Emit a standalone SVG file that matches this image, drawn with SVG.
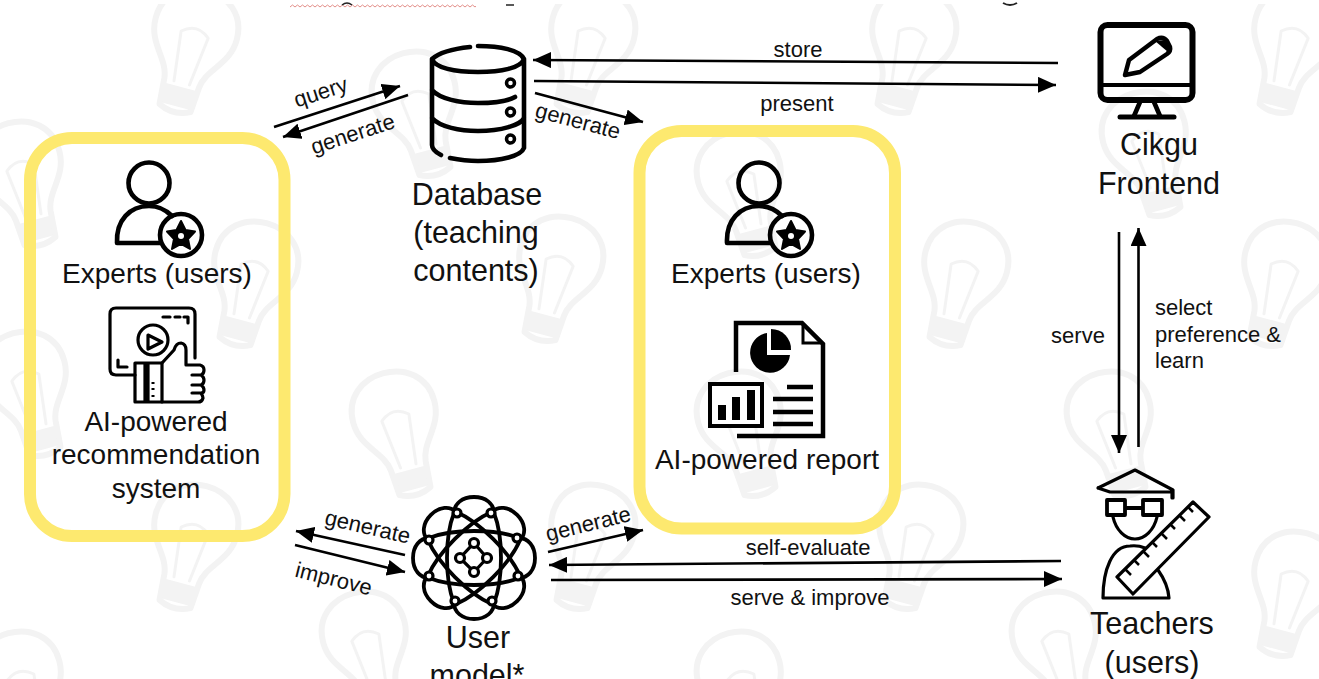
<svg xmlns="http://www.w3.org/2000/svg" width="1319" height="679" viewBox="0 0 1319 679">
<style>
text{font-family:"Liberation Sans",Arial,sans-serif;fill:#111;text-anchor:middle}
.n{font-size:30.5px}.m{font-size:28px}.s{font-size:22px}
.w{stroke:#f3f3f3;stroke-width:6;fill:none;stroke-linecap:round;stroke-linejoin:round}
.y{fill:none;stroke:#fde96f;stroke-width:12}
.c line{stroke:#000;stroke-width:2.6;marker-end:url(#a)}
.i{fill:none;stroke:#000;stroke-width:4.600;stroke-linecap:round;stroke-linejoin:round}
.t{fill:none;stroke:#000;stroke-width:3.200;stroke-linecap:round;stroke-linejoin:round}
.o{fill:none;stroke:#000;stroke-width:3.800}
</style>
<defs>
<marker id="a" markerUnits="userSpaceOnUse" markerWidth="20" markerHeight="16" refX="18" refY="8" orient="auto"><path d="M0,0L18,8L0,16Z" fill="#000"/></marker>
<pattern id="z" width="5" height="4" patternUnits="userSpaceOnUse"><path d="M0,3L2.500,1L5,3" fill="none" stroke="#d9706a" stroke-width=".8"/></pattern>
<g id="b"><path class="w" d="M-18,32C-20,12-42,2-42,-24C-42,-50-22,-64,0,-64C22,-64,42,-50,42,-24C42,2,20,12,18,32L16,58Q0,66-16,58Z"/><path class="w" style="stroke-width:3" d="M-8,32L-14,-18Q0,-30,14,-18L8,32"/><path d="M-16,36H16L14,56H-14Z" fill="#f3f3f3"/></g>
<g id="p"><circle class="i" cx="149" cy="183" r="20.500"/><path class="i" d="M117,243H160M117,243C116,220,130,206,149,206C158,206,166,210,172,216"/><circle class="i" cx="181" cy="235" r="21"/><path d="M181,221L185.500,230L195,231.500L188,239L190,249L181,244L172,249L174,239L167,231.500L176.500,230Z" fill="#000" stroke="#000" stroke-width="2" stroke-linejoin="round"/><circle cx="181" cy="236" r="3" fill="#fff"/></g>
<path id="l" class="o" d="M-61,0C-61,-12,-54,-20,-45,-20C-30,-26,-15,-27,0,-27C15,-27,30,-26,45,-20C54,-20,61,-12,61,0C61,12,54,20,45,20C30,26,15,27,0,27C-15,27,-30,26,-45,20C-54,20,-61,12,-61,0Z"/>
</defs>
<rect width="1319" height="679" fill="#fff"/>
<g id="watermark">
<use href="#b" transform="translate(190,52) rotate(15)"/><use href="#b" transform="translate(587,52) rotate(15)"/><use href="#b" transform="translate(908,52) rotate(15)"/><use href="#b" transform="translate(1290,52) rotate(15)"/>
<use href="#b" transform="translate(420,115) rotate(-15)"/><use href="#b" transform="translate(1150,155) rotate(-15)"/><use href="#b" transform="translate(25,185) rotate(-15)"/><use href="#b" transform="translate(745,195) rotate(-15)"/>
<use href="#b" transform="translate(250,285) rotate(15)"/><use href="#b" transform="translate(555,280) rotate(15)"/><use href="#b" transform="translate(960,285) rotate(15)"/><use href="#b" transform="translate(1280,285) rotate(15)"/>
<use href="#b" transform="translate(30,395) rotate(-15)"/><use href="#b" transform="translate(400,435) rotate(-15)"/><use href="#b" transform="translate(1115,435) rotate(-15)"/><use href="#b" transform="translate(745,435) rotate(-15)"/>
<use href="#b" transform="translate(190,548) rotate(15)"/><use href="#b" transform="translate(587,548) rotate(15)"/><use href="#b" transform="translate(915,548) rotate(15)"/><use href="#b" transform="translate(1290,595) rotate(15)"/>
<use href="#b" transform="translate(370,655) rotate(-15)"/><use href="#b" transform="translate(1060,655) rotate(-15)"/><use href="#b" transform="translate(25,695) rotate(-15)"/><use href="#b" transform="translate(745,695) rotate(-15)"/>
</g>
<rect width="1319" height="4" fill="#fff"/>
<rect x="290" y="4" width="186" height="4" fill="url(#z)"/>
<path d="M342,5Q347,1,352,5" fill="none" stroke="#222" stroke-width="1.500"/><path d="M506,5H514" stroke="#222" stroke-width="1.500"/><path d="M1003,3Q1010,7,1017,3" fill="none" stroke="#222" stroke-width="2"/>

<g id="box-left"><rect class="y" x="30" y="138" width="254.500" height="398" rx="42"/></g>
<g id="box-right"><rect class="y" x="639.500" y="131" width="255.500" height="397.500" rx="42"/></g>

<g id="connectors" class="c">
<line x1="274" y1="127" x2="400" y2="86"/>
<line x1="408" y1="95" x2="283" y2="137"/>
<line x1="535" y1="93" x2="643" y2="122"/>
<line x1="1058" y1="63" x2="533" y2="60"/>
<line x1="534" y1="81" x2="1056" y2="85"/>
<line x1="1119" y1="232" x2="1119" y2="453"/>
<line x1="1138.500" y1="447" x2="1138.500" y2="228"/>
<line x1="405" y1="555" x2="296" y2="531"/>
<line x1="295" y1="545" x2="405" y2="572"/>
<line x1="548" y1="552" x2="643" y2="530"/>
<line x1="1061" y1="561" x2="549" y2="565"/>
<line x1="551" y1="580" x2="1062" y2="579"/>
</g>

<g id="connector-labels">
<text class="s" transform="translate(323,99) rotate(-18)">query</text>
<text class="s" transform="translate(355,141) rotate(-18)">generate</text>
<text class="s" transform="translate(576,128) rotate(15)">generate</text>
<text class="s" x="798" y="57">store</text>
<text class="s" x="797" y="111">present</text>
<text class="s" x="1078" y="343">serve</text>
<text class="s" x="1155" y="315" style="text-anchor:start">select</text>
<text class="s" x="1155" y="342" style="text-anchor:start">preference &amp;</text>
<text class="s" x="1155" y="368" style="text-anchor:start">learn</text>
<text class="s" transform="translate(366,534) rotate(13)">generate</text>
<text class="s" transform="translate(332,586) rotate(14)">improve</text>
<text class="s" transform="translate(590,531) rotate(-14)">generate</text>
<text class="s" x="808" y="555">self-evaluate</text>
<text class="s" x="810" y="605">serve &amp; improve</text>
</g>

<g id="database">
<path class="i" d="M470,47Q442,50,432,59C435,68,455,72,478,72C501,72,521,68,524,59C520,50,500,46,478,46M432,59V145C432,150,437,153,441,155M450,158Q465,161,478,161C501,161,521,156,524,148V59M432,90C440,99,460,103,478,103C495,103,508,101,515,97M432,118C440,127,460,131,478,131C501,131,521,125,524,118"/>
<circle cx="510.500" cy="83" r="4" fill="none" stroke="#000" stroke-width="3.500"/><circle cx="510.500" cy="112" r="4" fill="none" stroke="#000" stroke-width="3.500"/><circle cx="510.500" cy="139" r="4" fill="none" stroke="#000" stroke-width="3.500"/>
<text class="n" x="477" y="205">Database</text><text class="n" x="476" y="243">(teaching</text><text class="n" x="476" y="281">contents)</text>
</g>

<g id="frontend">
<rect x="1100.500" y="25" width="92" height="75" rx="7" fill="none" stroke="#000" stroke-width="6"/>
<path d="M1100,85H1193" stroke="#000" stroke-width="4"/>
<path class="i" d="M1140,102L1134,116M1154,102L1160,116"/><path d="M1120,117H1174" stroke="#000" stroke-width="5" stroke-linecap="round"/>
<path d="M1125,75L1129,60L1157,39Q1163,36,1167,41L1170,47Q1171,51,1167,54L1140,72Z" fill="none" stroke="#000" stroke-width="4.500" stroke-linejoin="round"/>
<path d="M1155,41L1168,52L1170,47L1166,40Z" fill="#000"/>
<text class="n" x="1159" y="155">Cikgu</text><text class="n" x="1159" y="194">Frontend</text>
</g>

<g id="experts-left">
<use href="#p"/>
<text class="m" x="157" y="283">Experts (users)</text>
</g>
<g id="recommendation">
<path class="t" d="M135,375H116Q110,375,110,369V314Q110,308,116,308H189Q195,308,195,314V358"/>
<path class="t" d="M163,317H170M175,317H180M184,317H188V323M118,360V367H127"/>
<circle class="t" cx="153" cy="340" r="15"/><path class="t" d="M148,335L162,342L148,349Z"/>
<path class="t" d="M135,363H162V402H135ZM145,363V402M148,363V402"/>
<path class="t" d="M162,363L174,350Q176,343,181,343Q186,344,186,350V365H200Q204,366,204,370Q204,374,201,375Q204,377,204,380Q204,384,201,385Q204,387,204,390Q204,393,201,393Q203,396,203,398Q202,402,198,402H162M192,375H201M192,385H201M192,393H201"/>
<path d="M153,382V384M153,388V390M153,395V397" stroke="#000" stroke-width="3"/>
<text class="m" x="156" y="431">AI-powered</text><text class="m" x="156" y="464">recommendation</text><text class="m" x="156" y="498">system</text>
</g>

<g id="experts-right">
<use href="#p" x="610"/>
<text class="m" x="766" y="283">Experts (users)</text>
</g>
<g id="report">
<path d="M736,372V323H802L823,344V436H737" fill="none" stroke="#000" stroke-width="4.500"/>
<path d="M803,324V343H823" fill="none" stroke="#000" stroke-width="3"/>
<path d="M767,333A20,20,0,1,0,790,355H767Z" fill="#000"/><path d="M771,329A20,20,0,0,1,791,350H771Z" fill="#000"/>
<rect x="710" y="384" width="52" height="42" fill="#fff" stroke="#000" stroke-width="4"/>
<path d="M718,405h8v15h-8zM732,397h8v23h-8zM747,390h8v30h-8z" fill="#000"/>
<path d="M787,387H813M773,399H813M773,412H813M773,424H813" stroke="#000" stroke-width="4.500"/>
<text class="m" x="767" y="469">AI-powered report</text>
</g>

<g id="user-model">
<use href="#l" transform="translate(474,558)"/>
<use href="#l" transform="translate(474,558) rotate(45)"/>
<use href="#l" transform="translate(474,558) rotate(90)"/>
<use href="#l" transform="translate(474,558) rotate(135)"/>
<g fill="none" stroke="#000" stroke-width="3.200">
<path d="M474,543L487,558L474,572L460,558Z"/>
<g fill="#fff">
<circle cx="429" cy="540" r="4"/><circle cx="457" cy="513" r="4"/><circle cx="491" cy="513" r="4"/><circle cx="517" cy="538" r="4"/><circle cx="518" cy="576" r="4"/><circle cx="492" cy="601" r="4"/><circle cx="455" cy="601" r="4"/><circle cx="429" cy="576" r="4"/>
<circle cx="474" cy="543" r="4.500"/><circle cx="460" cy="558" r="4.500"/><circle cx="487" cy="558" r="4.500"/><circle cx="474" cy="572" r="4.500"/>
</g></g>
<text class="n" x="478" y="648">User</text><text class="n" x="477" y="686">model*</text>
</g>

<g id="teachers">
<path class="t" d="M1098,488L1135,470L1173,490M1098,488L1110,492H1172V498M1173,490V498"/>
<path class="t" style="stroke-width:3.800" d="M1107,500H1125V515H1107ZM1143,500H1162V515H1143ZM1125,508H1143"/>
<path class="t" d="M1113,517C1116,530,1125,539,1135,539C1145,539,1154,530,1157,517"/>
<path class="t" d="M1103,598C1103,570,1112,546,1130,546Q1138,545,1145,548M1158,570Q1168,584,1169,598H1103"/>
<path class="t" d="M1193,502L1209,517L1133,594L1117,577Z" fill="#fff"/>
<path d="M1125,569l6,6M1134,560l5,5M1143,551l6,6M1152,542l5,5M1161,533l6,6M1170,524l5,5M1179,515l6,6M1188,507l5,5" stroke="#000" stroke-width="2.500"/>
<text class="n" x="1152" y="634">Teachers</text><text class="n" x="1152" y="673">(users)</text>
</g>
</svg>
